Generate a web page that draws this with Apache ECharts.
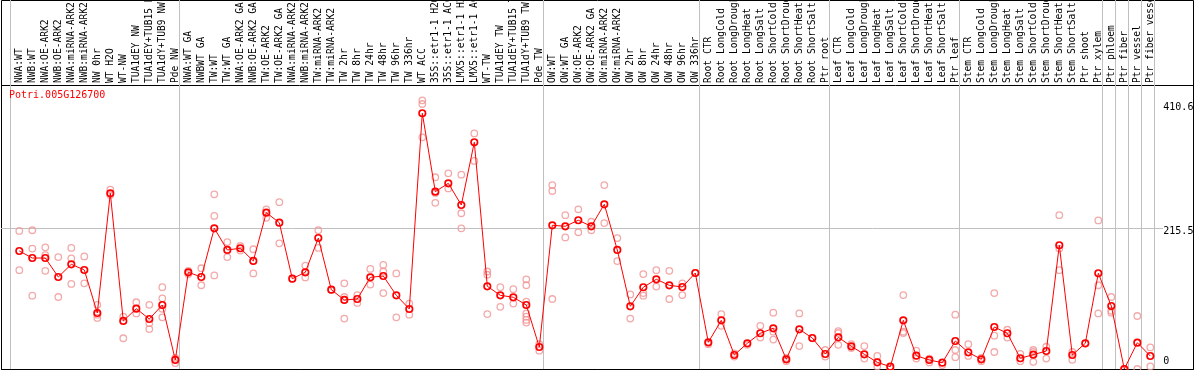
<!DOCTYPE html>
<html>
<head>
<meta charset="utf-8">
<script src="https://cdn.jsdelivr.net/npm/echarts@6/dist/echarts.min.js"></script>
<style>
html,body{margin:0;padding:0;background:#fff;}
#chart{width:1194px;height:370px;}
</style>
</head>
<body>
<div id="chart"></div>
<script>
const geneId = 'Potri.005G126700';

const categories = [
  'NWA:WT','NWB:WT','NWA:OE-ARK2','NWB:OE-ARK2','NWA:miRNA-ARK2','NWB:miRNA-ARK2','NW 0hr','WT H2O','WT-NW','TUA1dEY NW','TUA1dEY+TUB15 NW','TUA1dY+TUB9 NW','Pde NW',
  'NWA:WT GA','NWBWT GA','TW:WT','TW:WT GA','NWA:OE-ARK2 GA','NWB:OE-ARK2 GA','TW:OE-ARK2','TW:OE-ARK2 GA','NWA:miRNA-ARK2','NWB:miRNA-ARK2','TW:miRNA-ARK2','TW:miRNA-ARK2',
  'TW 2hr','TW 8hr','TW 24hr','TW 48hr','TW 96hr','TW 336hr','WT ACC','35S::etr1-1 H2O','35S::etr1-1 ACC','LMX5::etr1-1 H2O','LMX5::etr1-1 ACC','WT-TW','TUA1dEY TW','TUA1dEY+TUB15 TW','TUA1dY+TUB9 TW','Pde TW',
  'OW:WT','OW:WT GA','OW:OE-ARK2','OW:OE-ARK2 GA','OW:miRNA-ARK2','OW:miRNA-ARK2','OW 2hr','OW 8hr','OW 24hr','OW 48hr','OW 96hr','OW 336hr',
  'Root CTR','Root LongCold','Root LongDrought','Root LongHeat','Root LongSalt','Root ShortCold','Root ShortDrought','Root ShortHeat','Root ShortSalt','Ptr root',
  'Leaf CTR','Leaf LongCold','Leaf LongDrought','Leaf LongHeat','Leaf LongSalt','Leaf ShortCold','Leaf ShortDrought','Leaf ShortHeat','Leaf ShortSalt','Ptr leaf',
  'Stem CTR','Stem LongCold','Stem LongDrought','Stem LongHeat','Stem LongSalt','Stem ShortCold','Stem ShortDrought','Stem ShortHeat','Stem ShortSalt','Ptr shoot','Ptr xylem',
  'Ptr phloem','Ptr fiber','Ptr vessel','Ptr fiber vessel'
];

// index of the first category of each group (separator drawn before it)
const groupStarts = [0, 13, 41, 53, 63, 73, 84, 85, 86, 87];

const means = [
  180.3,169.6,169.6,140.6,160.0,151.3,85.6,268.5,73.4,92.2,76.4,97.8,13.8,
  147.8,140.6,215.0,181.9,184.5,165.1,238.9,223.6,138.0,147.8,200.2,121.2,105.5,107.0,140.1,142.1,112.6,91.7,390.8,271.0,283.8,250.6,346.5,126.4,112.6,109.6,97.8,33.6,
  219.6,218.1,227.3,218.1,251.7,181.9,95.8,124.9,137.1,127.9,125.3,146.7,
  40.8,74.4,21.4,39.3,54.6,62.2,14.8,60.7,47.4,22.9,
  48.4,34.7,22.5,10.2,3.5,74.4,20.3,13.8,9.6,42.8,
  25.5,14.8,64.2,54.6,16.4,21.9,27.5,189.1,21.4,39.3,146.3,
  96.3,0,40.2,19.9
];

const replicates = [
  [211,151],[212,184,112],[186,174,150],[171,110],[185,169,130],[172,131],[98,83,78],[274,266],[80,47],[102,85],[98,70,61],[125,108,92,79],[17,9],
  [150,145],[154,128],[267,234,143],[194,171],[181,188],[183,146],[244,231],[255,192],[138],[158,140],[212,185],[121],[131,110,77],[101,113],[153,129],[159,149,116],[146,79],[100,83],[410.6,405,354],[293,269,254],[299,276],[297,238,215],[360,318],[149,144,84],[125,95],[122,100],[137,128,103,85,80,75,71],[28,38],
  [281,272,107],[235,201],[244,209],[225,212],[281,223],[200,165],[114,77],[145,116,112],[151,126],[150,107],[131,113],[147],
  [40,38],[84,66],[24,19],[37],[66,48],[86,57,45],[17,12],[85,35],[47],[29,19],
  [58,55,37],[38,32],[35,16],[20,4],[1],[113,57,55],[28,16],[16,10],[6],[83,29,18],
  [38,20],[17,12],[116,51,26],[60,48],[23,12],[29,26,11],[34,16],[235,184,151],[26,14],[39],[227,128,85],
  [110,89,86],[0,0],[81,0],[33,4]
];

const yTicks = [0, 215.5, 410.6];
const yMax = 434;

const repPoints = [];
replicates.forEach((reps, i) => reps.forEach(v => repPoints.push([i, v])));

const FONT = 'DejaVu Sans Mono';
const chart = echarts.init(document.getElementById('chart'), null, {renderer: 'canvas'});

chart.setOption({
  animation: false,
  backgroundColor: '#ffffff',
  title: {
    text: geneId,
    left: 9, top: 90.5, padding: 0,
    textStyle: {color: '#ff0000', fontFamily: FONT, fontSize: 10, fontWeight: 'normal'}
  },
  grid: [
    {left: 12.8, top: 85, width: 1144, height: 284, outerBoundsMode: 'none', containLabel: false},
    {left: 10, top: 0, width: 1144, height: 369, outerBoundsMode: 'none', containLabel: false},
    {left: 1.5, top: 0.5, right: 0.5, bottom: 0.5, show: true, borderColor: '#000', borderWidth: 1, backgroundColor: 'transparent', outerBoundsMode: 'none'},
    {left: 1.5, top: 85.5, right: 0.5, bottom: 0.5, show: true, borderColor: '#000', borderWidth: 1, backgroundColor: 'transparent', outerBoundsMode: 'none'}
  ],
  xAxis: [
    {
      gridIndex: 0, type: 'category', data: categories, position: 'top',
      axisLine: {show: false}, axisTick: {show: false}, splitLine: {show: false},
      axisLabel: {interval: 0, rotate: 90, margin: 2, color: '#000', fontFamily: FONT, fontSize: 9.6}
    },
    {
      gridIndex: 1, type: 'category', data: categories, position: 'top',
      axisLine: {show: false}, axisTick: {show: false}, axisLabel: {show: false},
      splitLine: {show: true, interval: (i) => groupStarts.indexOf(i) >= 0, lineStyle: {color: '#c0c0c0', width: 1}}
    },
    {gridIndex: 2, type: 'value', show: false},
    {gridIndex: 3, type: 'value', show: false}
  ],
  yAxis: [
    {
      gridIndex: 0, type: 'value', position: 'right', min: 0, max: yMax,
      axisLine: {show: false}, axisTick: {show: false}, splitLine: {show: false},
      axisLabel: {
        customValues: yTicks, margin: 6.5, align: 'left', verticalAlign: 'middle',
        color: '#000', fontFamily: FONT, fontSize: 10,
        formatter: (v) => v === yTicks[0] ? '{z|' + v + '}' : (v === yTicks[1] ? '{m|' + v + '}' : '{t|' + v + '}'),
        rich: {
          z: {fontFamily: FONT, fontSize: 10, color: '#000', padding: [0, 0, 15, 0]},
          m: {fontFamily: FONT, fontSize: 10, color: '#000', padding: [7, 0, 0, 0]},
          t: {fontFamily: FONT, fontSize: 10, color: '#000', padding: [14, 0, 0, 0]}
        }
      }
    },
    {gridIndex: 1, type: 'value', show: false},
    {gridIndex: 2, type: 'value', show: false},
    {gridIndex: 3, type: 'value', show: false}
  ],
  series: [
    {
      type: 'scatter', xAxisIndex: 0, yAxisIndex: 0, data: repPoints,
      symbol: 'circle', symbolSize: 6.5, z: 2, clip: false,
      itemStyle: {color: 'rgba(0,0,0,0)', borderColor: '#f09494', borderWidth: 1.3}
    },
    {
      type: 'line', xAxisIndex: 0, yAxisIndex: 0, data: means,
      symbol: 'circle', symbolSize: 6.5, showAllSymbol: true, z: 3, clip: false,
      itemStyle: {color: 'rgba(0,0,0,0)', borderColor: '#ff0000', borderWidth: 1.7},
      lineStyle: {color: '#ff0000', width: 1},
      markLine: {
        silent: true, symbol: 'none', label: {show: false}, z: 1,
        lineStyle: {color: '#c0c0c0', width: 1, type: 'solid'},
        data: [[{x: 1, yAxis: yTicks[1]}, {x: 1163, yAxis: yTicks[1]}]]
      }
    }
  ]
});
</script>
</body>
</html>
